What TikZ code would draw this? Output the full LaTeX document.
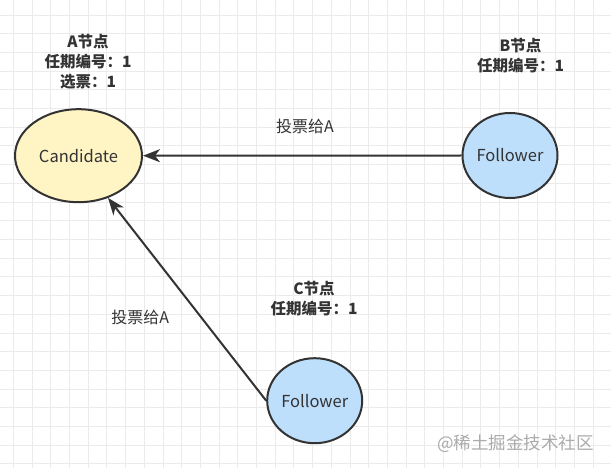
\documentclass[tikz,border=0pt]{standalone}
\usepackage{fontspec}
\setmainfont{Noto Sans CJK SC}
\usetikzlibrary{arrows.meta,shapes.geometric}
\definecolor{gridc}{HTML}{EBEBEB}
\definecolor{edgec}{HTML}{333333}
\definecolor{candfill}{HTML}{FFF4C3}
\definecolor{follfill}{HTML}{BEDFFC}
\definecolor{wmc}{HTML}{ABABAB}
\tikzset{
  statenode/.style={ellipse, draw=edgec, line width=2pt, inner sep=0pt, text=edgec, font=\fontsize{16.5}{19}\selectfont},
  infotext/.style={align=center, text=edgec, font=\bfseries\fontsize{15.5}{20}\selectfont},
  edgelabel/.style={text=edgec, font=\fontsize{16}{19}\selectfont},
  vote/.style={draw=edgec, line width=2pt, -{Stealth[length=17pt,width=13pt,inset=5pt]}},
}
\begin{document}
\begin{tikzpicture}[x=1pt,y=-1pt]
\useasboundingbox (0,0) rectangle (611,468);
\fill[white] (0,0) rectangle (611,468);
% grid
\foreach \k in {0,...,32} {
  \draw[gridc, line width=0.8pt] ({13.3+18.7*\k},0) -- ({13.3+18.7*\k},468);
}
\foreach \k in {-1,...,24} {
  \draw[gridc, line width=0.8pt] (0,{15+18.7*\k}) -- (611,{15+18.7*\k});
}
% nodes
\node[statenode, fill=candfill, minimum width=127pt, minimum height=93pt] (cand) at (78.5,155.7) {Candidate};
\node[statenode, fill=follfill, minimum width=95pt, minimum height=85pt] (B) at (510,155.5) {Follower};
\node[statenode, fill=follfill, minimum width=95pt, minimum height=85pt] (C) at (314.7,400.7) {Follower};
% info texts
\node[infotext] (infoA) at (88,61.7) {A节点\\任期编号：1\\选票：1};
\node[infotext] (infoB) at (520.5,56) {B节点\\任期编号：1};
\node[infotext] (infoC) at (314,299) {C节点\\任期编号：1};
% edges
\draw[vote] (B.west) -- (cand.east);
\draw[vote] (C.west) -- (cand.-55);
\node[edgelabel] (lab1) at (305,126.7) {投票给A};
\node[edgelabel] (lab2) at (140.3,317.3) {投票给A};
% watermark
\node[text=wmc, font=\fontsize{17.5}{20}\selectfont] (wm) at (515.5,443.3) {@稀土掘金技术社区};
\end{tikzpicture}
\end{document}
